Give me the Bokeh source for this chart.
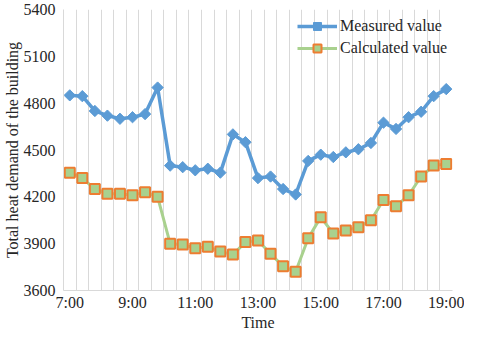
import numpy as np
from bokeh.plotting import figure
from bokeh.models import FixedTicker, Range1d, Legend
from bokeh.embed import file_html
from bokeh.resources import INLINE

times = ["7:00", "7:24", "7:48", "8:12", "8:36", "9:00", "9:24", "9:48", "10:12", "10:36",
         "11:00", "11:24", "11:48", "12:12", "12:36", "13:00", "13:24", "13:48", "14:12", "14:36",
         "15:00", "15:24", "15:48", "16:12", "16:36", "17:00", "17:24", "17:48", "18:12", "18:36",
         "19:00"]
tick_labels = ["7:00", "9:00", "11:00", "13:00", "15:00", "17:00", "19:00"]
measured = [4850, 4845, 4750, 4720, 4700, 4710, 4730, 4900, 4400, 4390,
            4370, 4380, 4355, 4600, 4550, 4320, 4330, 4250, 4215, 4430,
            4470, 4455, 4485, 4505, 4545, 4675, 4635, 4710, 4745, 4845,
            4890]
calculated = [4355, 4320, 4250, 4220, 4220, 4210, 4230, 4200, 3900, 3895,
              3870, 3880, 3850, 3830, 3910, 3920, 3835, 3755, 3720, 3935,
              4070, 3965, 3985, 4005, 4050, 4180, 4140, 4210, 4330, 4400,
              4410]
y_ticks = [3600, 3900, 4200, 4500, 4800, 5100, 5400]

FONT = "Liberation Serif"
TXT = "#262626"
BLUE = "#5B9BD5"
GREEN = "#A9D18E"
ORANGE = "#ED7D31"
GRID = "#D9D9D9"

x = list(range(len(times)))

p = figure(width=464, height=333, output_backend="svg", toolbar_location=None,
           x_range=Range1d(-0.5, len(times) - 0.5), y_range=Range1d(y_ticks[0], y_ticks[-1]),
           min_border_left=62, min_border_right=12, min_border_top=9, min_border_bottom=40)
p.outline_line_color = None

tick_pos = [times.index(t) for t in tick_labels]
p.xaxis.ticker = FixedTicker(ticks=tick_pos)
p.xaxis.major_label_overrides = {i: t for i, t in zip(tick_pos, tick_labels)}
p.yaxis.ticker = FixedTicker(ticks=y_ticks)

p.xgrid.ticker = FixedTicker(ticks=[i - 0.5 for i in range(len(times) + 1)])
p.xgrid.grid_line_color = GRID
p.ygrid.grid_line_color = None

for ax in (p.xaxis[0], p.yaxis[0]):
    ax.axis_line_color = GRID
    ax.major_tick_line_color = None
    ax.minor_tick_line_color = None
    ax.major_tick_out = 0
    ax.major_tick_in = 0
    ax.minor_tick_out = 0
    ax.minor_tick_in = 0
    ax.major_label_text_font = FONT
    ax.major_label_text_font_size = "16px"
    ax.major_label_text_color = TXT
    ax.axis_label_text_font = FONT
    ax.axis_label_text_font_size = "16px"
    ax.axis_label_text_font_style = "normal"
    ax.axis_label_text_color = TXT

p.xaxis.axis_label = "Time"
p.xaxis.major_label_standoff = 3
p.xaxis.axis_label_standoff = 0
p.yaxis.axis_label = "Total heat demand of the building"
p.yaxis.major_label_standoff = 8
p.yaxis.axis_label_standoff = 0

l1 = p.line(x, measured, line_color=BLUE, line_width=3.5)
s1 = p.scatter(x, measured, marker="square", angle=np.pi / 4, size=8,
               fill_color=BLUE, line_color=BLUE)
l2 = p.line(x, calculated, line_color=GREEN, line_width=3)
s2 = p.scatter(x, calculated, marker="square", size=10, fill_color=GREEN,
               line_color=ORANGE, line_width=2)

legend = Legend(items=[("Measured value", [l1, s1]), ("Calculated value", [l2, s2])],
                location=(234, 232), background_fill_alpha=0, border_line_color=None,
                padding=0, margin=0, spacing=2, glyph_width=40, glyph_height=20,
                label_height=20, label_standoff=3, label_text_font=FONT,
                label_text_font_size="16px", label_text_color=TXT)
p.add_layout(legend)

open("out.html", "w").write(file_html(p, INLINE))
